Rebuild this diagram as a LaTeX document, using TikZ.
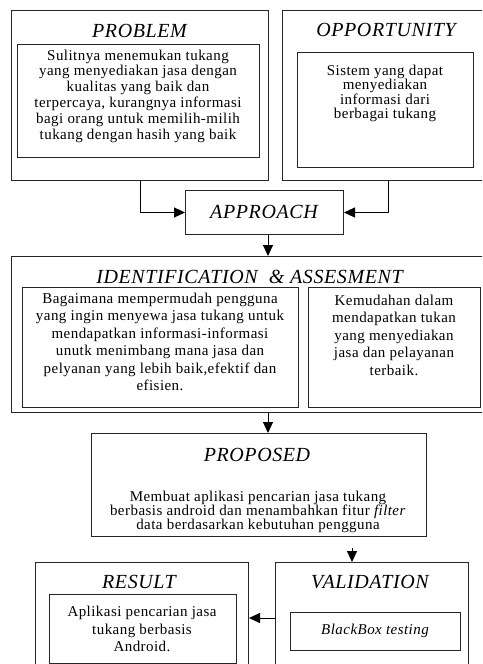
\documentclass[tikz,border=0pt]{standalone}
\usepackage{fontspec}
\setmainfont{Liberation Serif}
\newfontfamily\bodyfont{Liberation Serif}[LetterSpace=3]
\newfontfamily\ttlfont{Liberation Serif}[LetterSpace=3]
\usetikzlibrary{arrows.meta}
\begin{document}
\begin{tikzpicture}[x=1pt,y=-1pt,
  box/.style={draw=black!85, line width=1pt, inner sep=0pt, anchor=north west},
  ttl/.style={font=\ttlfont\itshape\fontsize{20}{22}\selectfont, inner sep=0pt},
  body/.style={font=\bodyfont\fontsize{15}{#1}\selectfont, align=center, inner sep=0pt},
  body/.default={16},
  arr/.style={line width=1pt, -{Triangle[length=11pt,width=10pt]}}]
\useasboundingbox (0,0) rectangle (482,664);
\clip (0,0) rectangle (482,664);
% outer boxes
\node[box, minimum width=257pt, minimum height=170pt] (probout) at (11,10) {};
\node[box, minimum width=212pt, minimum height=170pt] (oppout) at (282,10) {};
\node[box, minimum width=158pt, minimum height=44pt] (appr) at (185,190) {};
\node[box, minimum width=480pt, minimum height=156pt] (ident) at (11,256) {};
\node[box, minimum width=335pt, minimum height=103pt] (prop) at (91,433) {};
\node[box, minimum width=213pt, minimum height=140pt] (res) at (35,562) {};
\node[box, minimum width=193pt, minimum height=140pt] (val) at (275,562) {};
% inner boxes
\node[box, minimum width=242pt, minimum height=113pt] (probin) at (17,44) {};
\node[box, minimum width=176pt, minimum height=115pt] (oppin) at (297,52) {};
\node[box, minimum width=276pt, minimum height=120pt] (identl) at (22,287) {};
\node[box, minimum width=172pt, minimum height=120pt] (identr) at (308,287) {};
\node[box, minimum width=187pt, minimum height=69pt] (resin) at (49,594) {};
\node[box, minimum width=170pt, minimum height=38pt] (valin) at (290,612) {};
% titles
\node[ttl] (tprob) at (139.5,31) {PROBLEM};
\node[ttl] (topp) at (386,30) {OPPORTUNITY};
\node[ttl] (tappr) at (264,212) {APPROACH};
\node[ttl] (tident) at (249.5,277) {IDENTIFICATION \ \&\ ASSESMENT};
\node[ttl] (tprop) at (257,455) {PROPOSED};
\node[ttl] (tres) at (139,582) {RESULT};
\node[ttl] (tval) at (370,582) {VALIDATION};
% texts
\node[body=15.8] (xprob) at (138,96) {Sulitnya menemukan tukang\\yang menyediakan jasa dengan\\kualitas yang baik dan\\terpercaya, kurangnya informasi\\bagi orang untuk memilih-milih\\tukang dengan hasih yang baik};
\node[body=14.5] (xopp) at (385,93.5) {Sistem yang dapat\\menyediakan\\informasi dari\\berbagai tukang};
\node[body=17.5] (xidl) at (160,342) {Bagaimana mempermudah pengguna\\yang ingin menyewa jasa tukang untuk\\mendapatkan informasi-informasi\\unutk menimbang mana jasa dan\\pelyanan yang lebih baik,efektif dan\\efisien.};
\node[body=17.5] (xidr) at (394,335) {Kemudahan dalam\\mendapatkan tukan\\yang menyediakan\\jasa dan pelayanan\\terbaik.};
\node[body=13.8] (xprop) at (258,512) {Membuat aplikasi pencarian jasa tukang\\berbasis android dan menambahkan fitur \textit{filter}\\data berdasarkan kebutuhan pengguna};
\node[body=17.5] (xres) at (142,629) {Aplikasi pencarian jasa\\tukang berbasis\\Android.};
\node[font=\bodyfont\itshape\fontsize{15}{16}\selectfont, inner sep=0pt] (xval) at (375,631) {BlackBox testing};
% connectors
\coordinate (ax) at (268,0);
\coordinate (bx) at (352,0);
\coordinate (pstart) at (352,548);
\coordinate (ry) at (0,618);
\draw[arr] (probout.south) |- (appr.west);
\draw[arr] (oppout.south) |- (appr.east);
\draw[arr] (appr.south -| ax) -- (ident.north -| ax);
\draw[arr] (ident.south -| ax) -- (prop.north -| ax);
\draw[arr] (pstart) -- (val.north -| bx);
\draw[arr] (val.west |- ry) -- (res.east |- ry);
\end{tikzpicture}
\end{document}
